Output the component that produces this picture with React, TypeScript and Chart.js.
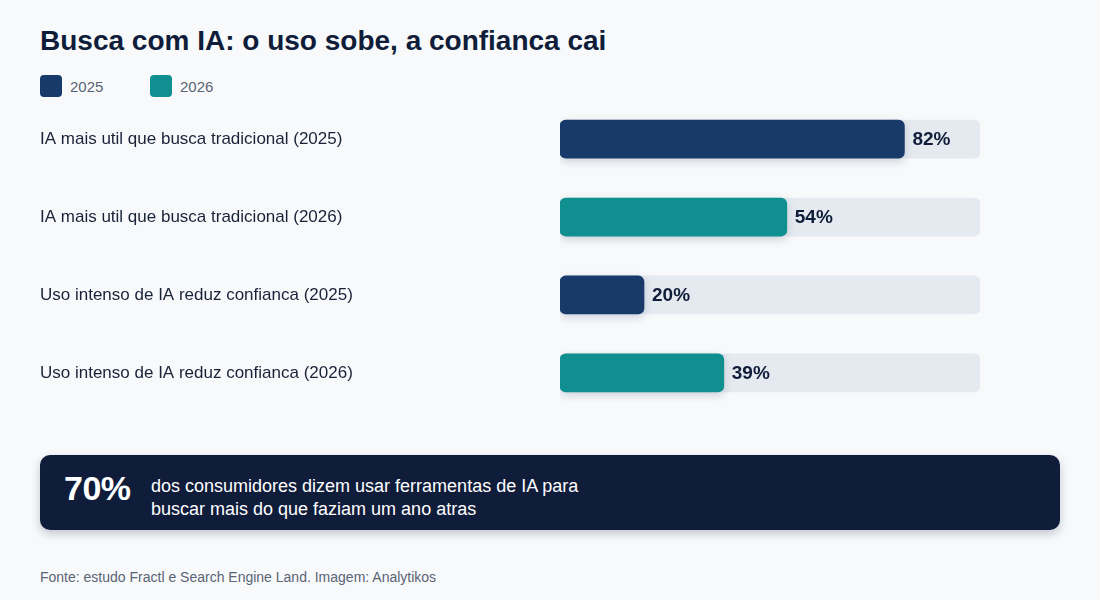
import React, { useEffect, useRef } from "react";
import { Chart, registerables } from "chart.js";

Chart.register(...registerables);

const categories = [
  "IA mais util que busca tradicional (2025)",
  "IA mais util que busca tradicional (2026)",
  "Uso intenso de IA reduz confianca (2025)",
  "Uso intenso de IA reduz confianca (2026)",
];
const values = [82, 54, 20, 39];
const years = ["2025", "2026", "2025", "2026"];
const trackValues = [100, 100, 100, 100];
const legendYears = ["2025", "2026"];

const NAVY = "#183a6b";
const TEAL = "#0f8f8f";
const TRACK = "#e5eaf0";
const INK = "#0f1d3a";
const BG = "#f7f9fb";
const FONT = '"Liberation Sans", Arial, Helvetica, sans-serif';

const yearColor: Record<string, string> = { "2025": NAVY, "2026": TEAL };

// soft shadow under value bars + percentage labels at the bar ends
const barExtras = {
  id: "barExtras",
  beforeDatasetDraw(chart: any, args: any) {
    if (args.index === 1) {
      const ctx = chart.ctx;
      ctx.save();
      ctx.shadowColor = "rgba(15, 35, 70, 0.18)";
      ctx.shadowBlur = 8;
      ctx.shadowOffsetY = 3;
    }
  },
  afterDatasetDraw(chart: any, args: any) {
    if (args.index === 1) chart.ctx.restore();
  },
  afterDatasetsDraw(chart: any) {
    const ctx = chart.ctx;
    const meta = chart.getDatasetMeta(1);
    ctx.save();
    ctx.font = `bold 19px ${FONT}`;
    ctx.fillStyle = INK;
    ctx.textAlign = "left";
    ctx.textBaseline = "middle";
    meta.data.forEach((bar: any, i: number) => {
      ctx.fillText(`${values[i]}%`, bar.x + 8, bar.y + 1);
    });
    ctx.restore();
  },
};

function BarChart() {
  const ref = useRef<HTMLCanvasElement>(null);
  useEffect(() => {
    if (!ref.current) return;
    const chart = new Chart(ref.current, {
      type: "bar",
      data: {
        labels: categories,
        datasets: [
          {
            data: trackValues,
            backgroundColor: TRACK,
            borderRadius: 6,
            borderSkipped: false,
            barThickness: 38,
            grouped: false,
            order: 2,
          },
          {
            data: values,
            backgroundColor: years.map((y) => yearColor[y]),
            borderRadius: 6,
            borderSkipped: false,
            barThickness: 38,
            grouped: false,
            order: 1,
          },
        ],
      },
      options: {
        indexAxis: "y",
        animation: false,
        responsive: false,
        maintainAspectRatio: false,
        layout: { padding: 0 },
        plugins: {
          legend: { display: false },
          tooltip: { enabled: false },
        },
        scales: {
          x: { display: false, min: 0, max: 100 },
          y: {
            grid: { display: false },
            border: { display: false },
            afterFit(scale: any) {
              scale.width = 520;
            },
            ticks: {
              crossAlign: "far",
              color: "#1a2238",
              font: { family: FONT, size: 17 },
              padding: 0,
            },
          },
        },
      },
      plugins: [barExtras],
    });
    return () => chart.destroy();
  }, []);
  return (
    <canvas
      ref={ref}
      width={940}
      height={332}
      style={{ position: "absolute", left: 40, top: 90, width: 940, height: 332 }}
    />
  );
}

export default function App() {
  useEffect(() => {
    document.body.style.margin = "0";
    document.body.style.background = BG;
  }, []);
  return (
    <div
      style={{
        position: "relative",
        width: 1100,
        height: 600,
        background: BG,
        fontFamily: FONT,
        overflow: "hidden",
      }}
    >
      <div
        style={{
          position: "absolute",
          left: 40,
          top: 25,
          fontSize: 28,
          fontWeight: 700,
          color: INK,
          whiteSpace: "nowrap",
        }}
      >
        Busca com IA: o uso sobe, a confianca cai
      </div>
      {legendYears.map((y, i) => (
        <div
          key={y}
          style={{
            position: "absolute",
            left: 40 + i * 110,
            top: 75,
            display: "flex",
            alignItems: "center",
          }}
        >
          <div
            style={{
              width: 22,
              height: 22,
              borderRadius: 4,
              background: yearColor[y],
            }}
          />
          <span style={{ marginLeft: 8, fontSize: 15, color: "#5a6475" }}>{y}</span>
        </div>
      ))}
      <BarChart />
      <div
        style={{
          position: "absolute",
          left: 40,
          top: 455,
          width: 1020,
          height: 75,
          borderRadius: 10,
          background: "#0f1d3b",
          boxShadow: "0 4px 10px rgba(15, 29, 59, 0.22)",
        }}
      >
        <div
          style={{
            position: "absolute",
            left: 24,
            top: 14,
            fontSize: 34,
            fontWeight: 700,
            color: "#ffffff",
            letterSpacing: -0.5,
          }}
        >
          70%
        </div>
        <div
          style={{
            position: "absolute",
            left: 111,
            top: 20,
            fontSize: 18,
            lineHeight: "23px",
            color: "#ffffff",
          }}
        >
          dos consumidores dizem usar ferramentas de IA para
          <br />
          buscar mais do que faziam um ano atras
        </div>
      </div>
      <div
        style={{
          position: "absolute",
          left: 40,
          top: 569,
          fontSize: 14,
          color: "#5a6475",
        }}
      >
        Fonte: estudo Fractl e Search Engine Land. Imagem: Analytikos
      </div>
    </div>
  );
}
